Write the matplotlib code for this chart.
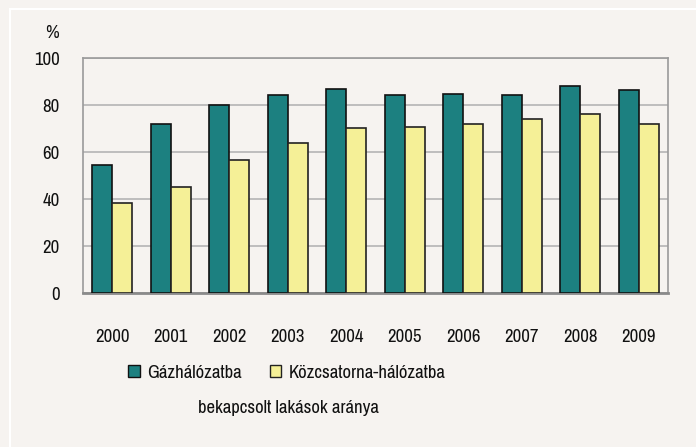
import matplotlib
matplotlib.use("Agg")
import matplotlib.pyplot as plt
from matplotlib.patches import Rectangle
from matplotlib.lines import Line2D
import numpy as np

years = ["2000", "2001", "2002", "2003", "2004", "2005", "2006", "2007", "2008", "2009"]
gas = [54.3, 72.0, 80.0, 84.3, 86.8, 84.3, 84.8, 84.3, 87.9, 86.2]
sewer = [38.4, 45.1, 56.7, 64.0, 70.2, 70.8, 72.0, 73.9, 76.3, 72.0]
series_names = ["Gázhálózatba", "Közcsatorna-hálózatba"]
y_ticks = [0, 20, 40, 60, 80, 100]

plt.rcParams['font.family'] = ['Archivo Narrow', 'Liberation Sans', 'DejaVu Sans']

bg = "#F6F3F0"
c_gas = "#1C8080"
c_sew = "#F5F097"

fig = plt.figure(figsize=(6.96, 4.47), dpi=100, facecolor=bg)
ax = fig.add_axes([0.1193, 0.3445, 0.8405, 0.5257])
ax.set_facecolor(bg)

x = np.arange(len(years))
w = 0.34
ax.bar(x - w/2, gas, w, color=c_gas, edgecolor="#111111", linewidth=1.2, zorder=3)
ax.bar(x + w/2, sewer, w, color=c_sew, edgecolor="#222222", linewidth=1.2, zorder=3)

fs = 13.5
ax.set_xlim(-0.5, len(years) - 0.5)
ax.set_ylim(0, 100)
ax.set_yticks(y_ticks)
ax.set_yticklabels([str(t) for t in y_ticks], fontsize=fs, color="#111111")
ax.set_xticks(x)
ax.set_xticklabels(years, fontsize=fs, color="#111111")
ax.tick_params(axis='both', length=0)
ax.tick_params(axis='y', pad=17)
ax.tick_params(axis='x', pad=26)
ax.grid(axis='y', color="#B4B4B4", linewidth=1.2, zorder=0)
for s in ["left", "top", "right"]:
    ax.spines[s].set_color("#9A9A9A")
    ax.spines[s].set_linewidth(1.2)
ax.spines["bottom"].set_color("#8A8A8A")
ax.spines["bottom"].set_linewidth(2)

fig.text(52/696, 1 - 33/447, "%", fontsize=fs, ha="center", va="center", color="#111111")

# white frame lines
fig.add_artist(Line2D([10/696, 1], [1 - 8.5/447, 1 - 8.5/447], color="white", linewidth=1.5))
fig.add_artist(Line2D([10/696, 10/696], [0, 1 - 8.5/447], color="white", linewidth=1.5))

handles = [Rectangle((0, 0), 1, 1, facecolor=c_gas, edgecolor="#111111", linewidth=1),
           Rectangle((0, 0), 1, 1, facecolor=c_sew, edgecolor="#222222", linewidth=1)]
leg = fig.legend(handles, series_names, loc="center", bbox_to_anchor=(287/696, 1 - 373/447),
                 ncol=2, frameon=False, fontsize=fs, handlelength=0.6, handleheight=0.6,
                 handletextpad=0.4, columnspacing=1.5)
for t in leg.get_texts():
    t.set_color("#111111")

fig.text(288/696, 1 - 408/447, "bekapcsolt lakások aránya", fontsize=fs, ha="center",
         va="center", color="#111111")

fig.savefig("out.png", dpi=100, facecolor=bg)
